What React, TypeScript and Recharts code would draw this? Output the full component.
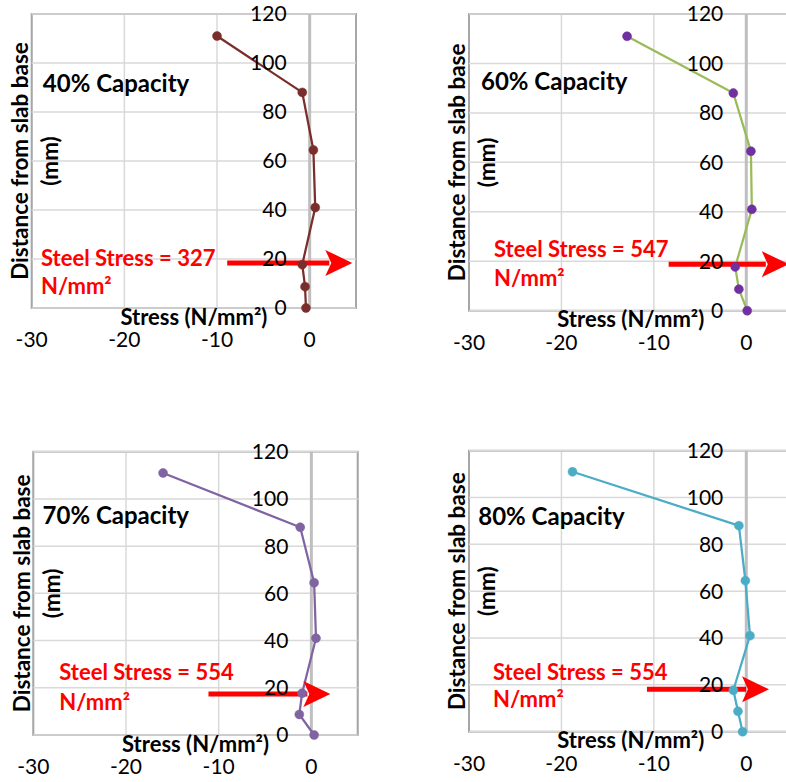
import React from 'react';
import {
  LineChart,
  Line,
  XAxis,
  YAxis,
  CartesianGrid,
  ReferenceLine,
  ReferenceArea,
  ReferenceDot,
} from 'recharts';

// distance from slab base (mm), shared by every load level
const depth = [111, 88, 64.5, 41, 17.7, 8.7, 0];

// concrete stress (N/mm²)
const stress40 = [-10, -0.8, 0.4, 0.6, -0.8, -0.5, -0.4];
const stress60 = [-12.9, -1.4, 0.5, 0.6, -1.2, -0.8, 0.1];
const stress70 = [-16, -1.2, 0.3, 0.5, -1, -1.3, 0.3];
const stress80 = [-18.8, -0.8, -0.1, 0.4, -1.4, -0.9, -0.4];

const capacities = ['40% Capacity', '60% Capacity', '70% Capacity', '80% Capacity'];
const steelStress = [327, 547, 554, 554];

const xTicks = [-30, -20, -10, 0];
const yTicks = [0, 20, 40, 60, 80, 100, 120];

const FONT = 'Lato, "Liberation Sans", sans-serif';

// where each panel sits, and where its notes go (in data units)
const panels = [
  {
    stress: stress40, line: '#7A2E2C', dot: '#7A2E2C',
    left: 0, top: 0, width: 393, height: 370,
    yAxisW: 31.7, mTop: 14, mRight: 37, xAxisH: 62,
    capAt: [-28.8, 91.8], steelAt: [-29, 20.4, 9], arrow: [18.4, -8.9, 4.6],
  },
  {
    stress: stress60, line: '#9BBB59', dot: '#7030A0',
    left: 393, top: 0, width: 440, height: 370,
    yAxisW: 76, mTop: 14, mRight: 40.5, xAxisH: 59.3,
    capAt: [-28.7, 92.6], steelAt: [-27.3, 24.8, 13.3], arrow: [18.8, -8.4, 4.6],
  },
  {
    stress: stress70, line: '#8064A2', dot: '#8064A2',
    left: 0, top: 400, width: 393, height: 382,
    yAxisW: 33.3, mTop: 51.7, mRight: 35.3, xAxisH: 47,
    capAt: [-29, 92.8], steelAt: [-27.2, 26.4, 14.1], arrow: [17.4, -11.1, 2.05],
  },
  {
    stress: stress80, line: '#4BACC6', dot: '#4BACC6',
    left: 393, top: 400, width: 440, height: 382,
    yAxisW: 76, mTop: 50.7, mRight: 40.5, xAxisH: 50.3,
    capAt: [-29, 92.1], steelAt: [-27.4, 25.6, 13.8], arrow: [18.1, -10.75, 2.46],
  },
];

const Arrow = (props: any) => {
  const { x1, y1, x2, y2 } = props;
  const head = 27;
  const half = 13;
  return (
    <g>
      <line x1={x1} y1={y1} x2={x2 - head + 4} y2={y2} stroke="#FF0000" strokeWidth={5} />
      <polygon
        points={`${x2},${y2} ${x2 - head},${y2 - half} ${x2 - head + 6},${y2} ${x2 - head},${y2 + half}`}
        fill="#FF0000"
      />
    </g>
  );
};

const YTitle = (props: any) => {
  const vb = props.viewBox || {};
  const plotLeft = vb.x + vb.width;
  const cy = vb.y + vb.height / 2;
  const a = plotLeft - 12;
  const b = plotLeft + 18;
  return (
    <g fontFamily={FONT} fontWeight="bold" fontSize={22.5} fill="#000">
      <text x={a} y={cy} textAnchor="middle" dominantBaseline="central" transform={`rotate(-90 ${a} ${cy})`}>
        Distance from slab base
      </text>
      <text x={b} y={cy} textAnchor="middle" dominantBaseline="central" transform={`rotate(-90 ${b} ${cy})`}>
        (mm)
      </text>
    </g>
  );
};

const Panel = ({ cfg, idx }: { cfg: any; idx: number }) => {
  const data = depth.map((d, i) => ({ stress: cfg.stress[i], depth: d }));
  const [ay, ax1, ax2] = cfg.arrow;
  return (
    <div style={{ position: 'absolute', left: cfg.left, top: cfg.top }}>
      <LineChart
        width={cfg.width}
        height={cfg.height}
        data={data}
        margin={{ top: cfg.mTop, right: cfg.mRight, bottom: 0, left: 0 }}
      >
        <CartesianGrid stroke="#D9D9D9" strokeWidth={1.5} horizontal={false} />
        <XAxis
          type="number"
          dataKey="stress"
          domain={[-30, 5]}
          ticks={xTicks}
          interval={0}
          height={cfg.xAxisH}
          axisLine={false}
          tickLine={false}
          tickSize={0}
          tickMargin={24}
          tick={{ fill: '#000', fontSize: 21, fontFamily: FONT }}
          label={{
            value: 'Stress (N/mm²)',
            position: 'insideTop',
            offset: 1,
            fill: '#000',
            fontSize: 22,
            fontWeight: 'bold',
            fontFamily: FONT,
          }}
        />
        <YAxis
          type="number"
          domain={[0, 120]}
          ticks={yTicks}
          width={cfg.yAxisW}
          axisLine={false}
          tickLine={false}
          tick={false}
          label={<YTitle />}
        />
        {yTicks.map((t) => (
          <ReferenceLine key={`g${t}`} y={t} stroke="#D9D9D9" strokeWidth={1.5} />
        ))}
        <ReferenceArea x1={-30} x2={5} y1={0} y2={120} fill="none" fillOpacity={0} stroke="#A6A6A6" strokeWidth={2} />
        <ReferenceLine x={0} stroke="#BFBFBF" strokeWidth={3} />
        {yTicks.map((t) => (
          <ReferenceDot
            key={t}
            x={0}
            y={t}
            r={0}
            fill="none"
            stroke="none"
            label={{ value: t, position: 'left', offset: 23, fill: '#000', fontSize: 21, fontFamily: FONT }}
          />
        ))}
        <Line
          type="linear"
          dataKey="depth"
          stroke={cfg.line}
          strokeWidth={2.25}
          dot={{ r: 4.5, fill: cfg.dot, stroke: cfg.dot, strokeWidth: 0.5 }}
          isAnimationActive={false}
        />
        <ReferenceDot
          x={cfg.capAt[0]}
          y={cfg.capAt[1]}
          r={0}
          fill="none"
          stroke="none"
          label={{ value: capacities[idx], position: 'right', offset: 0, fill: '#000', fontSize: 24, fontWeight: 'bold', fontFamily: FONT }}
        />
        <ReferenceDot
          x={cfg.steelAt[0]}
          y={cfg.steelAt[1]}
          r={0}
          fill="none"
          stroke="none"
          label={{ value: `Steel Stress = ${steelStress[idx]}`, position: 'right', offset: 0, fill: '#FF0000', fontSize: 22, fontWeight: 'bold', fontFamily: FONT }}
        />
        <ReferenceDot
          x={cfg.steelAt[0]}
          y={cfg.steelAt[2]}
          r={0}
          fill="none"
          stroke="none"
          label={{ value: 'N/mm²', position: 'right', offset: 0, fill: '#FF0000', fontSize: 22, fontWeight: 'bold', fontFamily: FONT }}
        />
        <ReferenceLine
          segment={[
            { x: ax1, y: ay },
            { x: ax2, y: ay },
          ]}
          shape={Arrow}
        />
      </LineChart>
    </div>
  );
};

export default function App() {
  return (
    <div
      style={{
        position: 'absolute',
        left: 0,
        top: 0,
        width: 786,
        height: 782,
        overflow: 'hidden',
        background: '#fff',
        fontFamily: FONT,
      }}
    >
      {panels.map((cfg, i) => (
        <Panel key={i} cfg={cfg} idx={i} />
      ))}
    </div>
  );
}
